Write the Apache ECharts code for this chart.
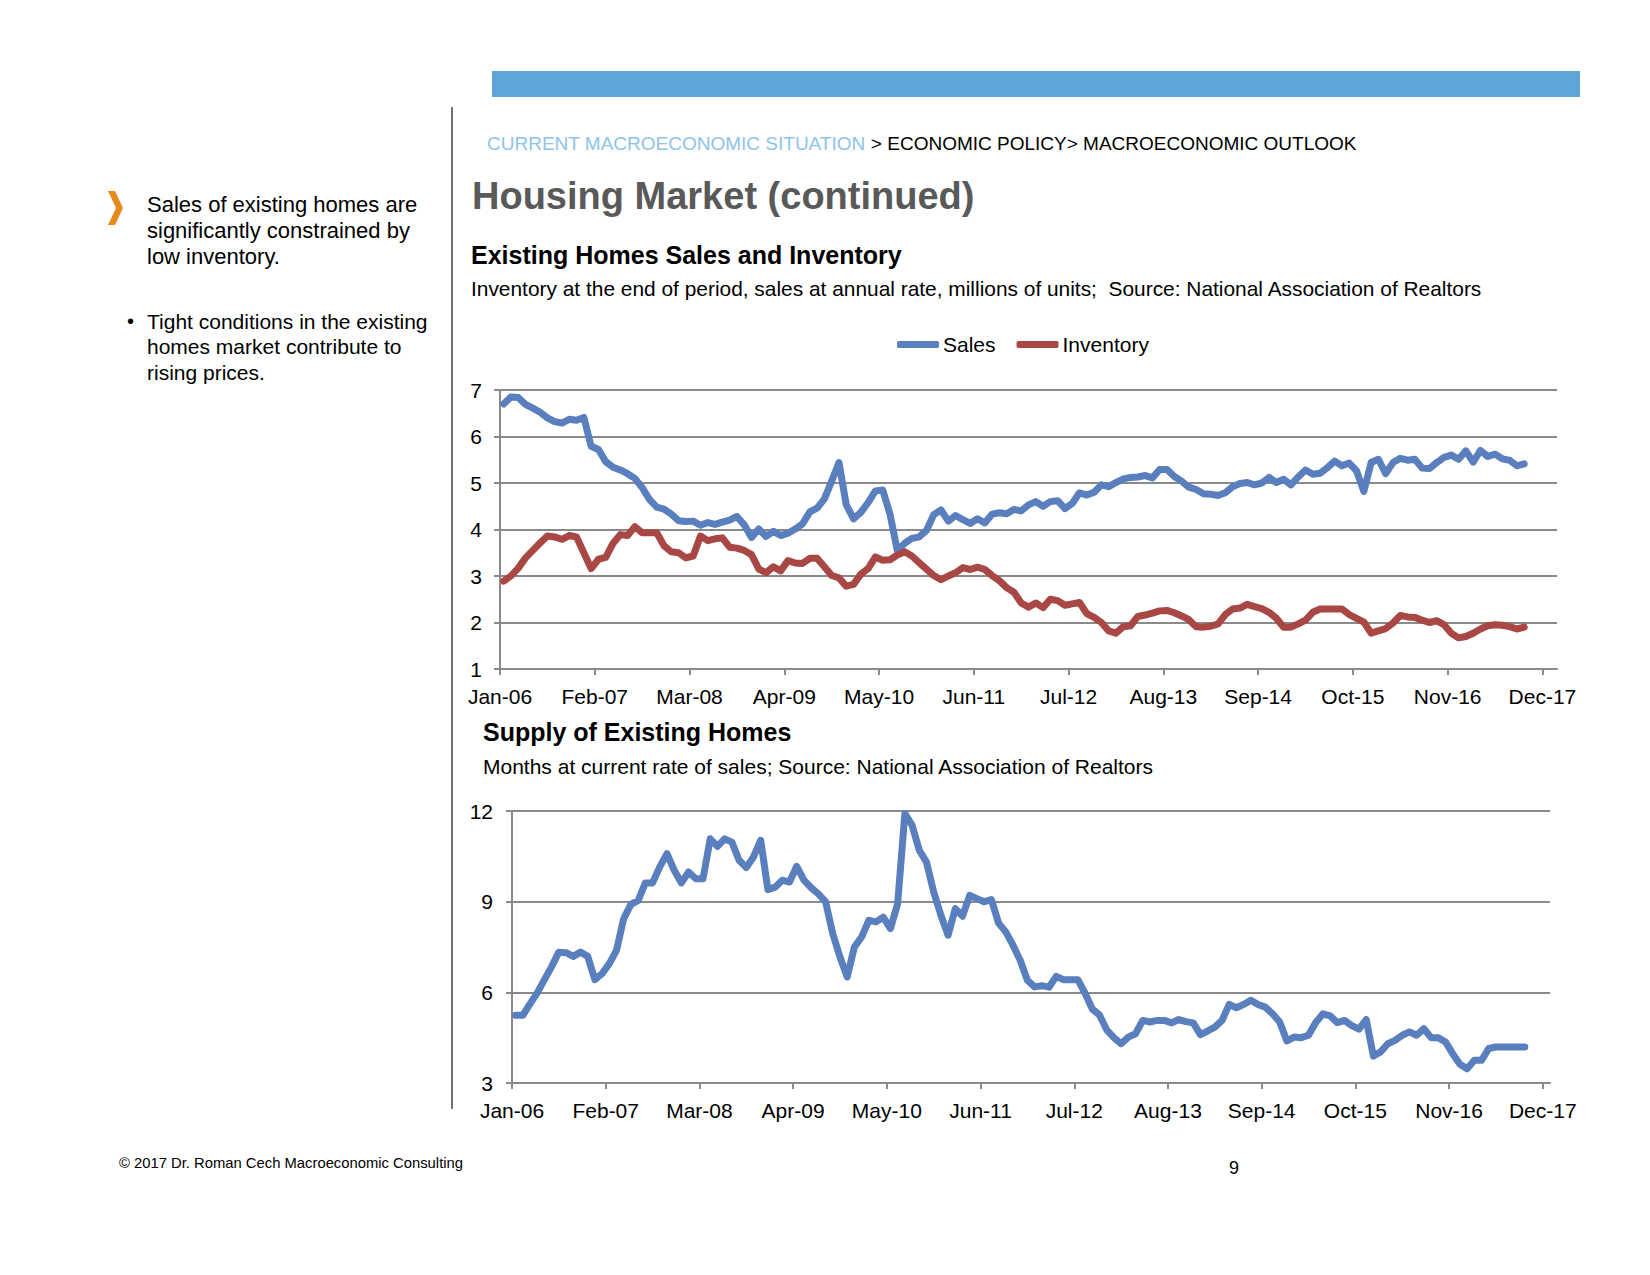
<!DOCTYPE html>
<html>
<head>
<meta charset="utf-8">
<script src="https://cdn.jsdelivr.net/npm/echarts/dist/echarts.min.js"></script>
<style>
html,body{margin:0;padding:0;background:#ffffff;}
#c{width:1650px;height:1275px;}
</style>
</head>
<body>
<div id="c"></div>
<script>
// ---------- data ----------
const monthNames = ['Jan','Feb','Mar','Apr','May','Jun','Jul','Aug','Sep','Oct','Nov','Dec'];
const tickLabels = ['Jan-06','Feb-07','Mar-08','Apr-09','May-10','Jun-11','Jul-12','Aug-13','Sep-14','Oct-15','Nov-16','Dec-17'];
const tickMonths = [0,13,26,39,52,65,78,91,104,117,130,143];
const yTicksTop = [1,2,3,4,5,6,7];
const yTicksBottom = [3,6,9,12];

// Existing home sales, SAAR, millions (Jan-06 .. Sep-17)
const sales = [
6.70,6.85,6.84,6.69,6.61,6.52,6.40,6.32,6.29,6.37,6.35,6.41,
5.79,5.72,5.46,5.34,5.28,5.20,5.10,4.90,4.65,4.48,4.44,4.33,
4.19,4.17,4.18,4.09,4.15,4.11,4.16,4.20,4.28,4.10,3.83,4.01,
3.85,3.96,3.87,3.92,4.01,4.12,4.38,4.46,4.66,5.04,5.44,4.53,
4.23,4.37,4.58,4.83,4.85,4.33,3.55,3.70,3.81,3.84,3.98,4.32,
4.42,4.18,4.30,4.21,4.13,4.23,4.14,4.33,4.36,4.34,4.43,4.40,
4.53,4.60,4.50,4.60,4.62,4.45,4.56,4.79,4.74,4.80,4.96,4.92,
5.01,5.09,5.12,5.13,5.16,5.11,5.29,5.29,5.14,5.04,4.91,4.86,
4.77,4.76,4.73,4.79,4.92,4.99,5.01,4.96,5.00,5.12,5.01,5.08,
4.96,5.13,5.28,5.19,5.21,5.33,5.47,5.37,5.43,5.26,4.82,5.44,
5.51,5.20,5.44,5.53,5.49,5.51,5.32,5.31,5.44,5.55,5.60,5.51,
5.69,5.45,5.70,5.57,5.62,5.52,5.49,5.37,5.41
];

// Inventory at end of period, millions
const inventory = [
2.89,3.00,3.17,3.39,3.55,3.71,3.86,3.84,3.79,3.87,3.84,3.50,
3.16,3.36,3.40,3.70,3.89,3.87,4.06,3.93,3.93,3.93,3.65,3.52,
3.50,3.39,3.43,3.86,3.76,3.80,3.82,3.62,3.60,3.55,3.46,3.15,
3.07,3.20,3.11,3.33,3.28,3.27,3.38,3.38,3.20,3.01,2.96,2.78,
2.82,3.04,3.16,3.41,3.34,3.35,3.45,3.52,3.43,3.29,3.15,3.01,
2.92,3.00,3.07,3.18,3.14,3.19,3.14,3.01,2.90,2.75,2.65,2.42,
2.33,2.42,2.32,2.50,2.47,2.37,2.40,2.43,2.19,2.11,2.00,1.82,
1.77,1.91,1.93,2.13,2.16,2.20,2.25,2.26,2.21,2.14,2.06,1.91,
1.90,1.92,1.97,2.17,2.29,2.31,2.39,2.34,2.30,2.22,2.09,1.90,
1.90,1.97,2.05,2.22,2.29,2.29,2.29,2.29,2.17,2.09,2.01,1.77,
1.82,1.87,1.99,2.15,2.12,2.11,2.05,2.00,2.04,1.95,1.77,1.67,
1.70,1.77,1.86,1.93,1.95,1.94,1.91,1.86,1.90
];

// Months' supply at current sales rate
const supply = [
5.24,5.24,5.62,5.98,6.42,6.85,7.33,7.31,7.19,7.33,7.19,6.42,
6.62,6.95,7.39,8.44,8.91,9.04,9.62,9.62,10.15,10.59,10.04,9.62,
9.98,9.76,9.76,11.08,10.83,11.08,10.97,10.37,10.13,10.48,11.03,9.40,
9.48,9.71,9.65,10.17,9.71,9.46,9.26,9.00,7.94,7.17,6.51,7.50,
7.83,8.38,8.33,8.49,8.11,8.93,11.91,11.53,10.70,10.31,9.32,8.55,
7.89,8.77,8.52,9.21,9.10,9.00,9.07,8.29,8.00,7.56,7.06,6.40,
6.18,6.22,6.17,6.53,6.42,6.42,6.42,5.97,5.45,5.25,4.76,4.50,
4.30,4.52,4.63,5.07,5.02,5.07,5.07,4.99,5.10,5.03,4.99,4.60,
4.72,4.85,5.07,5.60,5.49,5.60,5.74,5.60,5.51,5.29,5.02,4.39,
4.52,4.50,4.58,5.00,5.29,5.22,5.00,5.07,4.90,4.78,5.10,3.89,
4.03,4.30,4.41,4.58,4.69,4.58,4.80,4.50,4.50,4.36,3.97,3.62,
3.47,3.75,3.75,4.14,4.19,4.19,4.19,4.19,4.19
];

// month categories (Jan-06 onward), one per data point
const months = sales.map((_, i) => monthNames[i % 12] + '-' + String(6 + Math.floor(i / 12)).padStart(2, '0'));

// ---------- styling ----------
const FONT = '"Liberation Sans", Arial, Helvetica, sans-serif';
const BLUE = '#5A7FBE';
const RED = '#A94745';
const GRID = '#8A8A8A';

function toPairs(arr){ return arr.map((v, i) => [i + 0.5, v]); }
function monthLabel(v){
  const k = tickMonths.indexOf(Math.round(v));
  return k >= 0 ? tickLabels[k] : '';
}

function xAxisCfg(gridIndex, maxMonths){
  return {
    type: 'value', gridIndex: gridIndex, min: 0, max: maxMonths,
    axisLine: {show: true, onZero: false, lineStyle: {color: GRID, width: 2}},
    axisTick: {show: true, inside: false, length: 6, customValues: tickMonths, lineStyle: {color: GRID, width: 2}},
    axisLabel: {show: true, customValues: tickMonths, formatter: monthLabel, margin: 17,
      color: '#000', fontSize: 21, fontFamily: FONT},
    splitLine: {show: false}
  };
}
function yAxisCfg(gridIndex, mn, mx, step, margin){
  return {
    type: 'value', gridIndex: gridIndex, min: mn, max: mx, interval: step,
    axisLine: {show: true, lineStyle: {color: GRID, width: 2}},
    axisTick: {show: true, inside: false, length: 6, lineStyle: {color: GRID, width: 2}},
    axisLabel: {show: true, margin: margin, color: '#000', fontSize: 21, fontFamily: FONT},
    splitLine: {show: true, lineStyle: {color: GRID, width: 2}}
  };
}
function lineSeries(name, data, color, xi, yi){
  return {
    name: name, type: 'line', xAxisIndex: xi, yAxisIndex: yi,
    data: toPairs(data), showSymbol: false, symbol: 'none',
    itemStyle: {color: color},
    lineStyle: {color: color, width: 7, cap: 'round', join: 'round'},
    emphasis: {disabled: true}, z: 3
  };
}
function txt(x, y, text, font, fill, extra){
  return Object.assign({type: 'text', x: x, y: y, silent: true,
    style: {text: text, font: font, fill: fill || '#000', verticalAlign: 'middle', align: 'left'}}, extra || {});
}

const graphics = [
  {type: 'rect', silent: true, shape: {x: 492, y: 71, width: 1088, height: 26}, style: {fill: '#5DA5DB'}},
  {type: 'line', silent: true, shape: {x1: 452, y1: 107, x2: 452, y2: 1109}, style: {stroke: '#444444', lineWidth: 1.5}},
  {type: 'text', x: 487, y: 143, silent: true, style: {
    text: '{a|CURRENT MACROECONOMIC SITUATION}{b| > ECONOMIC POLICY> MACROECONOMIC OUTLOOK}',
    font: '19px ' + FONT, verticalAlign: 'middle',
    rich: {a: {fill: '#8EC3EA', font: '19px ' + FONT}, b: {fill: '#000000', font: '19px ' + FONT}}
  }},
  txt(472, 196, 'Housing Market (continued)', 'bold 38px ' + FONT, '#595959'),
  txt(471, 255, 'Existing Homes Sales and Inventory', 'bold 25px ' + FONT, '#000'),
  txt(471, 288, 'Inventory at the end of period, sales at annual rate, millions of units;  Source: National Association of Realtors', '20.9px ' + FONT, '#000'),
  txt(483, 732, 'Supply of Existing Homes', 'bold 25px ' + FONT, '#000'),
  txt(483, 766, 'Months at current rate of sales; Source: National Association of Realtors', '21px ' + FONT, '#000'),
  {type: 'polygon', silent: true, shape: {points: [[108,191],[115,191],[123,208],[115,225],[108,225],[116,208]]}, style: {fill: '#E8891C'}},
  txt(147, 204, 'Sales of existing homes are', '22px ' + FONT),
  txt(147, 230, 'significantly constrained by', '22px ' + FONT),
  txt(147, 256, 'low inventory.', '22px ' + FONT),
  txt(127, 321, '\u2022', '20px ' + FONT),
  txt(147, 321, 'Tight conditions in the existing', '21px ' + FONT),
  txt(147, 346, 'homes market contribute to', '21px ' + FONT),
  txt(147, 372, 'rising prices.', '21px ' + FONT),
  txt(119, 1163, '\u00A9 2017 Dr. Roman Cech Macroeconomic Consulting', '14.8px ' + FONT),
  txt(1229, 1168, '9', '18px ' + FONT)
];

const chart = echarts.init(document.getElementById('c'), null, {renderer: 'svg', width: 1650, height: 1275});
chart.setOption({
  animation: false,
  backgroundColor: '#ffffff',
  textStyle: {fontFamily: FONT},
  legend: {
    show: true, left: 892, top: 329, orient: 'horizontal',
    data: ['Sales', 'Inventory'], icon: 'roundRect',
    itemWidth: 42, itemHeight: 7, itemGap: 21,
    textStyle: {color: '#000', fontSize: 21, fontFamily: FONT, padding: [0, 0, 0, -1]},
    selectedMode: false
  },
  grid: [
    {left: 500, top: 390, width: 1057, height: 279, containLabel: false},
    {left: 512, top: 811, width: 1038, height: 272, containLabel: false}
  ],
  xAxis: [xAxisCfg(0, 145), xAxisCfg(1, 144)],
  yAxis: [yAxisCfg(0, 1, 7, 1, 18), yAxisCfg(1, 3, 12, 3, 19)],
  series: [
    lineSeries('Sales', sales, BLUE, 0, 0),
    lineSeries('Inventory', inventory, RED, 0, 0),
    lineSeries('Supply', supply, BLUE, 1, 1)
  ],
  graphic: graphics
});
</script>
</body>
</html>
